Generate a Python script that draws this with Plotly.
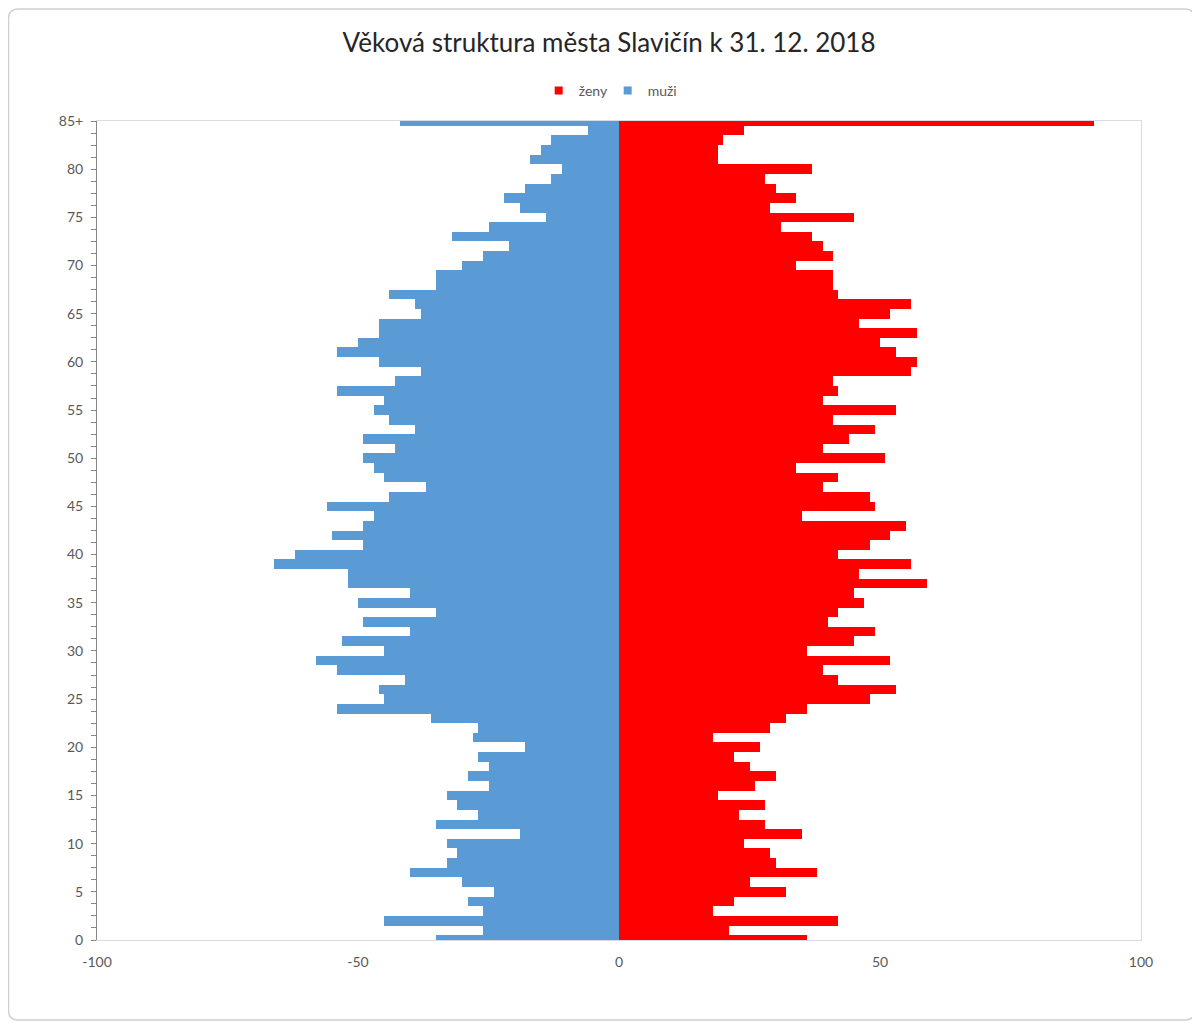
import plotly.graph_objects as go

ages = list(range(0, 86))
tick_vals = [0, 5, 10, 15, 20, 25, 30, 35, 40, 45, 50, 55, 60, 65, 70, 75, 80, 85]
tick_text = ["0", "5", "10", "15", "20", "25", "30", "35", "40", "45", "50", "55",
             "60", "65", "70", "75", "80", "85+"]

zeny = [36, 21, 42, 18, 22, 32, 25, 38, 30, 29, 24, 35, 28, 23, 28, 19, 26, 30, 25, 22,
        27, 18, 29, 32, 36, 48, 53, 42, 39, 52, 36, 45, 49, 40, 42, 47, 45, 59, 46, 56,
        42, 48, 52, 55, 35, 49, 48, 39, 42, 34, 51, 39, 44, 49, 41, 53, 39, 42, 41, 56,
        57, 53, 50, 57, 46, 52, 56, 42, 41, 41, 34, 41, 39, 37, 31, 45, 29, 34, 30, 28,
        37, 19, 19, 20, 24, 91]

muzi = [-35, -26, -45, -26, -29, -24, -30, -40, -33, -31, -33, -19, -35, -27, -31, -33,
        -25, -29, -25, -27, -18, -28, -27, -36, -54, -45, -46, -41, -54, -58, -45, -53,
        -40, -49, -35, -50, -40, -52, -52, -66, -62, -49, -55, -49, -47, -56, -44, -37,
        -45, -47, -49, -43, -49, -39, -44, -47, -45, -54, -43, -38, -46, -54, -50, -46,
        -46, -38, -39, -44, -35, -35, -30, -26, -21, -32, -25, -14, -19, -22, -18, -13,
        -11, -17, -15, -13, -6, -42]

x_ticks = [-100, -50, 0, 50, 100]
x_tick_text = ["-100", "-50", "0", "50", "100"]

RED = "#FF0000"
BLUE = "#5B9BD5"
font_family = "Lato, 'Open Sans', sans-serif"

# page body has an 8px margin: figure coordinates = screen coordinates - 8
W, H = 1200, 1023
L, T = 89, 113          # plot left / top (figure px)
PR, PB = 1133, 932      # plot right / bottom (figure px)
pw, ph = PR - L, PB - T


def px(X):
    return (X - L) / pw


def py(Y):
    return (PB - Y) / ph


bx0, bx1, by0, by1, r = 0.5, 1187, 1, 1012, 10
border = (f"M {px(bx0 + r)},{py(by0)} L {px(bx1 - r)},{py(by0)} "
          f"Q {px(bx1)},{py(by0)} {px(bx1)},{py(by0 + r)} "
          f"L {px(bx1)},{py(by1 - r)} Q {px(bx1)},{py(by1)} {px(bx1 - r)},{py(by1)} "
          f"L {px(bx0 + r)},{py(by1)} Q {px(bx0)},{py(by1)} {px(bx0)},{py(by1 - r)} "
          f"L {px(bx0)},{py(by0 + r)} Q {px(bx0)},{py(by0)} {px(bx0 + r)},{py(by0)} Z")

fig = go.Figure()
fig.add_trace(go.Bar(y=ages, x=zeny, orientation="h", name="ženy", showlegend=False,
                     marker=dict(color=RED, line=dict(width=0)), width=1))
fig.add_trace(go.Bar(y=ages, x=muzi, orientation="h", name="muži", showlegend=False,
                     marker=dict(color=BLUE, line=dict(width=0)), width=1))
# legend entries (small squares like the original)
fig.add_trace(go.Scatter(x=[None], y=[None], mode="markers", name="ženy",
                         marker=dict(symbol="square", size=8, color=RED)))
fig.add_trace(go.Scatter(x=[None], y=[None], mode="markers", name="muži",
                         marker=dict(symbol="square", size=8, color=BLUE)))
# invisible trace to activate the right-hand frame axis
fig.add_trace(go.Scatter(x=[None], y=[None], yaxis="y2", showlegend=False))

fig.update_layout(
    width=W, height=H,
    barmode="overlay", bargap=0,
    plot_bgcolor="white", paper_bgcolor="white",
    margin=dict(l=L, r=W - PR, t=T, b=H - PB, autoexpand=False),
    title=dict(text="Věková struktura města Slavičín k 31. 12. 2018",
               x=(609 - 8) / W, xanchor="center", y=1 - 35 / H, yanchor="middle",
               yref="container", font=dict(family=font_family, size=26, color="#262626")),
    legend=dict(orientation="h", x=(595 - 8) / W, xanchor="center", y=1 - 83 / H,
                yanchor="middle", yref="container",
                font=dict(family=font_family, size=14, color="#595959"),
                itemwidth=30, entrywidth=24, traceorder="normal", tracegroupgap=0),
    font=dict(family=font_family, color="#595959"),
    xaxis=dict(range=[-100, 100], tickvals=x_ticks, ticktext=x_tick_text, ticks="",
               showgrid=False, zeroline=False, showline=True, linecolor="#D6DCE5",
               linewidth=1, mirror=True, ticklabelstandoff=9,
               tickfont=dict(size=14, color="#595959")),
    yaxis=dict(range=[0, 85], tickvals=tick_vals, ticktext=tick_text, ticks="outside",
               ticklen=5, tickcolor="#868686", showgrid=False, zeroline=False,
               showline=True, linecolor="#868686", linewidth=1, ticklabelstandoff=5,
               minor=dict(dtick=1.25, ticks="outside", ticklen=5, tickcolor="#868686"),
               tickfont=dict(size=14, color="#595959")),
    yaxis2=dict(range=[0, 85], overlaying="y", side="right", showline=True,
                linecolor="#D6DCE5", showticklabels=False, ticks="", showgrid=False,
                zeroline=False),
    shapes=[dict(type="path", xref="paper", yref="paper", path=border,
                 line=dict(color="#D0D0D0", width=1.5), layer="below")],
)

fig.write_html("out.html")
